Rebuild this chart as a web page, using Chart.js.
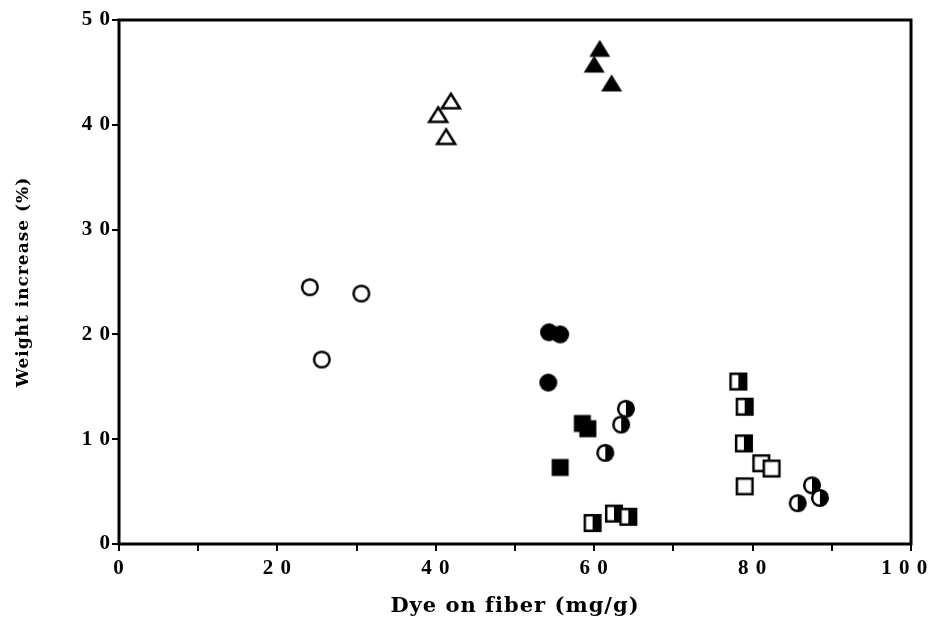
<!DOCTYPE html>
<html>
<head>
<meta charset="utf-8">
<script src="https://cdn.jsdelivr.net/npm/chart.js@4.4.0/dist/chart.umd.min.js"></script>
<style>
  html, body { margin: 0; padding: 0; background: #fff; }
  #wrap { width: 929px; height: 623px; }
</style>
</head>
<body>
<div id="wrap"><canvas id="chart"></canvas></div>
<script>
// ================= Data =================
// trailing spaces on the last label pull it left inside the canvas, like the original
const xTickLabels = { 0: "0", 20: "2 0", 40: "4 0", 60: "6 0", 80: "8 0", 100: "1 0 0  " };
const yTickLabels = { 0: "0", 10: "1 0", 20: "2 0", 30: "3 0", 40: "4 0", 50: "5 0" };

const openCircleX = [24.1, 30.6, 25.6];
const openCircleY = [24.5, 23.9, 17.6];

const openTriangleX = [40.3, 41.9, 41.3];
const openTriangleY = [40.9, 42.2, 38.8];

const fullTriangleX = [60.7, 60.0, 62.2];
const fullTriangleY = [47.2, 45.7, 43.9];

const fullCircleX = [54.3, 55.7, 54.2];
const fullCircleY = [20.2, 20.0, 15.4];

const fullSquareX = [58.5, 59.2, 55.7];
const fullSquareY = [11.5, 11.0, 7.3];

const halfCircleAX = [64.0, 63.4, 61.4];
const halfCircleAY = [12.9, 11.4, 8.7];

const halfCircleBX = [87.5, 85.7, 88.5];
const halfCircleBY = [5.6, 3.9, 4.4];

const halfSquareAX = [59.8, 62.5, 64.3];
const halfSquareAY = [2.0, 2.9, 2.6];

const halfSquareBX = [78.2, 79.0, 78.9];
const halfSquareBY = [15.5, 13.1, 9.6];

const openSquareX = [81.1, 82.4, 79.0];
const openSquareY = [7.7, 7.2, 5.5];

// ================= Markers =================
function makeMarker(kind) {
    const s = 26, c = document.createElement("canvas");
    c.width = s; c.height = s;
    const g = c.getContext("2d");
    const cx = s / 2, cy = s / 2;
    g.strokeStyle = "#000";
    g.fillStyle = "#000";
    g.lineWidth = 2.5;
    g.lineJoin = "miter";

    if (kind === "openCircle" || kind === "fullCircle" || kind === "halfCircle") {
        const r = kind === "fullCircle" ? 9 : 7.8;
        g.beginPath();
        g.arc(cx, cy, r, 0, Math.PI * 2);
        g.fillStyle = kind === "fullCircle" ? "#000" : "#fff";
        g.fill();
        if (kind === "halfCircle") {
            g.fillStyle = "#000";
            g.beginPath();
            g.arc(cx, cy, r, -Math.PI / 2, Math.PI / 2);
            g.closePath();
            g.fill();
        }
        if (kind !== "fullCircle") {
            g.beginPath();
            g.arc(cx, cy, r, 0, Math.PI * 2);
            g.stroke();
        }
    } else if (kind === "openSquare" || kind === "fullSquare" || kind === "halfSquare") {
        const h = kind === "fullSquare" ? 8.5 : 7.8;
        g.fillStyle = kind === "fullSquare" ? "#000" : "#fff";
        g.fillRect(cx - h, cy - h, 2 * h, 2 * h);
        if (kind === "halfSquare") {
            g.fillStyle = "#000";
            g.fillRect(cx, cy - h, h, 2 * h);
        }
        if (kind !== "fullSquare") {
            g.strokeRect(cx - h, cy - h, 2 * h, 2 * h);
        }
    } else {
        g.beginPath();
        if (kind === "fullTriangle") {
            g.moveTo(cx, cy - 9.5);
            g.lineTo(cx + 10.5, cy + 7.5);
            g.lineTo(cx - 10.5, cy + 7.5);
        } else {
            g.moveTo(cx, cy - 8);
            g.lineTo(cx + 9, cy + 6.5);
            g.lineTo(cx - 9, cy + 6.5);
        }
        g.closePath();
        if (kind === "fullTriangle") {
            g.fill();
        } else {
            g.fillStyle = "#fff";
            g.fill();
            g.stroke();
        }
    }
    return c;
}

function series(label, xs, ys, kind) {
    return {
        label: label,
        data: xs.map((x, i) => ({ x: x, y: ys[i] })),
        pointStyle: makeMarker(kind),
        pointRadius: 10,
        showLine: false
    };
}

// ================= Frame + text spacing =================
const framePlugin = {
    id: "frame",
    beforeDraw(chart) {
        chart.ctx.letterSpacing = "1px";
    },
    afterDraw(chart) {
        const a = chart.chartArea, ctx = chart.ctx;
        ctx.save();
        ctx.strokeStyle = "#000";
        ctx.lineWidth = 3;
        ctx.strokeRect(a.left, a.top, a.right - a.left, a.bottom - a.top);
        ctx.restore();
    }
};

// ================= Chart =================
const serif = "'Liberation Serif', 'DejaVu Serif', serif";
const wideSerif = "'DejaVu Serif', serif";

new Chart(document.getElementById("chart"), {
    type: "scatter",
    data: {
        datasets: [
            series("open circle", openCircleX, openCircleY, "openCircle"),
            series("open triangle", openTriangleX, openTriangleY, "openTriangle"),
            series("filled triangle", fullTriangleX, fullTriangleY, "fullTriangle"),
            series("filled circle", fullCircleX, fullCircleY, "fullCircle"),
            series("filled square", fullSquareX, fullSquareY, "fullSquare"),
            series("half circle A", halfCircleAX, halfCircleAY, "halfCircle"),
            series("half circle B", halfCircleBX, halfCircleBY, "halfCircle"),
            series("half square A", halfSquareAX, halfSquareAY, "halfSquare"),
            series("half square B", halfSquareBX, halfSquareBY, "halfSquare"),
            series("open square", openSquareX, openSquareY, "openSquare")
        ]
    },
    options: {
        responsive: true,
        maintainAspectRatio: false,
        animation: false,
        layout: { padding: { left: 0, right: 18, top: 20, bottom: 0 } },
        plugins: {
            legend: { display: false },
            tooltip: { enabled: false }
        },
        scales: {
            x: {
                type: "linear",
                min: 0,
                max: 100,
                border: { display: false },
                grid: {
                    drawOnChartArea: false,
                    drawTicks: true,
                    tickLength: 7,
                    lineWidth: 2,
                    color: "#000"
                },
                ticks: {
                    stepSize: 10,
                    autoSkip: false,
                    maxRotation: 0,
                    padding: 5,
                    color: "#000",
                    font: { family: serif, size: 21, weight: "bold" },
                    callback: v => xTickLabels[v] !== undefined ? xTickLabels[v] : ""
                },
                title: {
                    display: true,
                    text: "Dye on fiber (mg/g)",
                    color: "#000",
                    font: { family: wideSerif, size: 21, weight: "bold" },
                    padding: { top: 11, bottom: 4 }
                },
                afterFit: s => {
                    s.height = 79;
                    s.paddingLeft = 0;
                    s.paddingRight = 0;
                }
            },
            y: {
                type: "linear",
                min: 0,
                max: 50,
                border: { display: false },
                grid: {
                    drawOnChartArea: false,
                    drawTicks: true,
                    tickLength: 7,
                    lineWidth: 2,
                    color: "#000"
                },
                ticks: {
                    stepSize: 10,
                    padding: 1,
                    color: "#000",
                    font: { family: serif, size: 21, weight: "bold" },
                    callback: v => yTickLabels[v] !== undefined ? yTickLabels[v] : ""
                },
                title: {
                    display: true,
                    text: "Weight increase (%)",
                    color: "#000",
                    font: { family: wideSerif, size: 17, weight: "bold" },
                    padding: { top: 13, bottom: 0 }
                },
                afterFit: s => {
                    s.width = 119;
                    s.paddingTop = 0;
                    s.paddingBottom = 0;
                }
            }
        }
    },
    plugins: [framePlugin]
});
</script>
</body>
</html>
